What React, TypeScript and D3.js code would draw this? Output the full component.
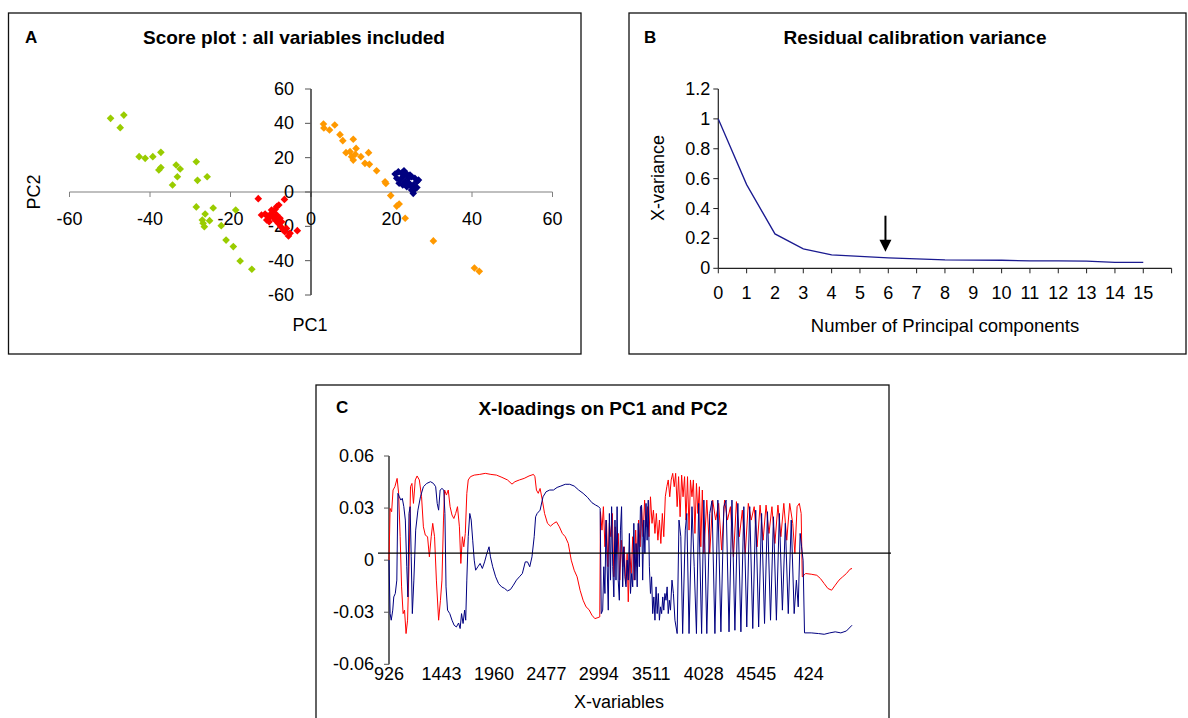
import React from "react";
import * as d3 from "d3";

const FONT = "'Liberation Sans', Arial, Helvetica, sans-serif";

// ---------- Panel A : score plot ----------
const scoreGreen: [number, number][] = [
  [-49.8, 42.9], [-46.5, 44.8], [-47.4, 37.5], [-42.7, 20.6], [-41.2, 19.6], [-39.3, 20.6],
  [-37.3, 23.1], [-37.8, 12.8], [-37.3, 14.2], [-33.5, 15.7], [-32.5, 13.4], [-33.2, 8.9],
  [-34.4, 4.1], [-28.5, 17.6], [-28.2, 6.8], [-25.8, 8.9], [-28.5, -8.7], [-26.3, -12.8],
  [-24.3, -9.3], [-27.0, -16.3], [-26.8, -18.2], [-26.5, -20.2], [-25.2, -16.7], [-22.3, -19.6],
  [-18.7, -10.5], [-21.1, -28.0], [-19.3, -31.8], [-17.6, -40.2], [-14.7, -45.0],
];
const scoreRed: [number, number][] = [
  [-13.1, -3.9], [-6.6, -4.3], [-3.4, -22.5], [-11.4, -12.8], [-10.9, -14.0], [-10.4, -15.3],
  [-10.0, -12.8], [-9.4, -11.5], [-8.9, -10.1], [-8.5, -8.5], [-8.0, -7.6], [-11.0, -16.3],
  [-10.4, -17.3], [-9.4, -14.4], [-8.5, -13.4], [-7.7, -15.3], [-8.1, -18.3], [-7.5, -20.2],
  [-6.9, -22.1], [-6.5, -23.1], [-5.6, -25.6], [-5.2, -24.1], [-7.3, -17.3], [-8.9, -16.3],
  [-9.8, -10.5], [-12.3, -13.4], [-6.1, -21.2],
];
const scoreOrange: [number, number][] = [
  [3.1, 39.6], [3.2, 37.3], [4.6, 36.1], [5.9, 39.0], [7.2, 33.4], [7.9, 29.9], [10.5, 30.7],
  [11.2, 25.4], [8.7, 22.9], [9.7, 23.5], [10.1, 20.6], [10.5, 18.6], [12.4, 20.6], [14.3, 22.9],
  [13.4, 16.7], [14.5, 16.1], [16.3, 12.4], [18.4, 6.0], [18.6, 5.0], [19.8, -2.1], [21.3, -8.2],
  [21.9, -7.0], [23.4, -15.3], [30.4, -28.5], [40.6, -44.3], [41.8, -46.2], [11.0, 22.0],
];
const scoreNavy: [number, number][] = [
  [20.9, 10.5], [21.7, 11.8], [22.5, 10.9], [22.9, 8.9], [22.1, 7.0], [21.3, 8.0], [23.4, 6.0],
  [24.2, 8.0], [25.0, 8.9], [25.8, 8.0], [26.3, 6.0], [25.4, 4.1], [24.6, 4.1], [23.8, 3.1],
  [22.8, 4.1], [25.0, 1.2], [25.8, 1.6], [25.4, -0.8], [26.3, 2.6], [23.8, 10.5], [24.6, 9.9],
  [23.1, 12.4], [21.9, 5.1], [24.2, 5.5], [26.7, 7.0],
];
const scoreTicks = [-60, -40, -20, 0, 20, 40, 60];

// ---------- Panel B : residual calibration variance ----------
const pcComponents = [0, 1, 2, 3, 4, 5, 6, 7, 8, 9, 10, 11, 12, 13, 14, 15];
const residualVariance = [1.0, 0.56, 0.23, 0.13, 0.09, 0.08, 0.07, 0.063, 0.056, 0.055, 0.054, 0.05, 0.05, 0.048, 0.04, 0.04];
const varianceTicks = [0, 0.2, 0.4, 0.6, 0.8, 1, 1.2];
const pcAxisTicks = [0, 1, 2, 3, 4, 5, 6, 7, 8, 9, 10, 11, 12, 13, 14, 15, 16];
const arrowPc = 5.9;
const arrowFrom = 0.352;
const arrowTo = 0.111;

// ---------- Panel C : X-loadings ----------
const loadingLabels = ["926", "1443", "1960", "2477", "2994", "3511", "4028", "4545", "424"];
const labelStep = 517;
const loadingTicks = [-0.06, -0.03, 0, 0.03, 0.06];
const refLineValue = 0.004;

const loadingPC2: [number, number][] = [
  [0, 0], [11, 0.0298], [26, 0.0279], [40, 0.0404], [58, 0.0423], [80, 0.0471], [95, 0.0385], [110, 0.0135],
  [124, -0.0154], [139, -0.0308], [153, -0.0288], [168, -0.0423], [183, -0.0346], [197, -0.0038], [212, 0.0423],
  [226, 0.0442], [241, 0.0327], [259, 0.0462], [277, 0.0485], [299, 0.0462], [321, 0.0365], [339, 0.0192],
  [358, 0.0144], [380, 0.0135], [398, 0.0019], [416, 0.0135], [431, 0.0212], [449, 0.0135], [467, -0.0115],
  [489, -0.0346], [507, -0.0231], [522, -0.0115], [537, 0.0231], [548, 0.0404], [566, 0.0375], [584, 0.0404],
  [602, 0.0308], [621, 0.026], [639, 0.024], [657, 0.0269], [675, 0.0308], [694, 0.0192], [708, -0.0019],
  [723, 0.0135], [737, 0.0077], [752, 0.0154], [767, 0.0385], [781, 0.0462], [803, 0.0481], [840, 0.049],
  [894, 0.0494], [949, 0.05], [1004, 0.0494], [1059, 0.049], [1113, 0.0477], [1168, 0.0462], [1212, 0.0438],
  [1241, 0.0452], [1285, 0.0462], [1332, 0.0471], [1380, 0.0485], [1424, 0.0494], [1438, 0.0481], [1453, 0.0404],
  [1471, 0.0385], [1489, 0.0413], [1511, 0.0346], [1533, 0.0269], [1562, 0.0212], [1591, 0.0196], [1624, 0.0212],
  [1650, 0.0221], [1679, 0.0192], [1708, 0.0154], [1737, 0.0135], [1767, 0.0096], [1796, 0], [1825, -0.0058],
  [1854, -0.0096], [1883, -0.0173], [1913, -0.0231], [1942, -0.0269], [1971, -0.0285], [2000, -0.0317],
  [2029, -0.0337], [2059, -0.0331], [2077, -0.0327], [2084, 0.0279], [2099, 0.0173], [2113, 0.0308],
  [2128, 0.0077], [2143, 0.0231], [2157, -0.0038], [2172, 0.0212], [2186, 0.0135], [2201, 0.0269],
  [2216, -0.0096], [2230, 0.0192], [2245, 0.0038], [2259, 0.0154], [2274, -0.0115], [2289, 0.0115],
  [2303, -0.0038], [2318, 0.0077], [2332, -0.0135], [2347, 0.0038], [2358, -0.024], [2373, 0.0038],
  [2387, -0.0077], [2402, 0.0135], [2416, -0.0115], [2431, 0.0173], [2446, -0.0038], [2460, 0.0231],
  [2475, 0.0077], [2489, 0.0308], [2504, 0.0135], [2519, 0.0346], [2533, 0.0192], [2548, 0.0308],
  [2562, 0.0135], [2577, 0.0365], [2592, 0.0212], [2606, 0.0288], [2621, 0.0154], [2635, 0.0269],
  [2650, 0.0115], [2665, 0.0231], [2679, 0.0096], [2694, 0.0269], [2708, 0.0135], [2723, 0.0365],
  [2738, 0.0423], [2752, 0.0462], [2767, 0.0365], [2781, 0.0462], [2796, 0.05], [2811, 0.0423],
  [2825, 0.05], [2840, 0.0308], [2854, 0.0481], [2869, 0.025], [2884, 0.049], [2898, 0.0365],
  [2913, 0.0481], [2927, 0.0231], [2942, 0.0481], [2957, 0.0173], [2971, 0.0462], [2986, 0.0365],
  [3000, 0.0462], [3015, 0.0154], [3030, 0.0442], [3044, 0.0269], [3059, 0.0423], [3073, 0.0077],
  [3088, 0.0404], [3103, 0.0038], [3132, 0.0346], [3161, 0.0038], [3190, 0.0346], [3219, 0.0231],
  [3249, 0.0327], [3278, 0.0058], [3307, 0.0346], [3336, 0.0231], [3365, 0.0308], [3395, 0.0019],
  [3424, 0.0337], [3453, 0.0135], [3482, 0.0288], [3511, 0.0038], [3541, 0.0327], [3570, 0.0231],
  [3599, 0.0308], [3628, 0.0077], [3657, 0.0317], [3687, 0.0115], [3716, 0.0317], [3745, 0.0154],
  [3774, 0.0308], [3803, 0.0096], [3833, 0.0317], [3862, 0.0135], [3891, 0.0327], [3920, 0.0115],
  [3949, 0.0327], [3979, 0.0212], [4000, 0.0038], [4022, 0.0308], [4044, 0.0327], [4062, 0.0269],
  [4073, -0.0096], [4106, -0.0077], [4161, -0.0081], [4216, -0.0087], [4252, -0.0106], [4289, -0.0135],
  [4325, -0.0163], [4362, -0.0173], [4398, -0.0144], [4435, -0.0115], [4471, -0.0096], [4508, -0.0077],
  [4544, -0.0052], [4563, -0.0048],
];

const loadingPC1: [number, number][] = [
  [0, 0], [11, -0.0308], [22, -0.0346], [37, -0.0288], [47, -0.0212], [62, -0.0192], [77, -0.0115],
  [88, 0.0385], [102, 0.0365], [117, 0.0346], [131, 0.0356], [146, 0.0308], [161, 0.0231], [175, -0.0038],
  [186, -0.0212], [197, 0.0269], [208, 0.0308], [219, 0.0019], [230, -0.0308], [245, -0.0115], [263, 0.0173],
  [285, 0.0288], [310, 0.0365], [339, 0.0423], [372, 0.0442], [409, 0.0452], [438, 0.0442], [460, 0.0423],
  [475, 0.0327], [489, 0.0288], [504, 0.0404], [522, 0.0413], [540, 0.0404], [551, 0.0269], [562, -0.0154],
  [577, -0.0288], [599, -0.0308], [621, -0.0346], [642, -0.0375], [664, -0.0385], [686, -0.0362],
  [701, -0.0394], [715, -0.0308], [730, -0.0365], [745, -0.0288], [756, -0.0346], [767, -0.0115],
  [781, 0.0135], [796, 0.0269], [810, 0.0231], [825, 0.0115], [840, 0], [854, -0.0058], [876, -0.0038],
  [898, -0.0019], [920, -0.0048], [942, -0.001], [964, 0.0038], [986, 0.0077], [1000, 0.0019],
  [1022, -0.0038], [1051, -0.0096], [1080, -0.0135], [1110, -0.0154], [1139, -0.0163], [1168, -0.0177],
  [1197, -0.0169], [1226, -0.0144], [1256, -0.0115], [1285, -0.0096], [1314, -0.0077], [1343, -0.001],
  [1365, -0.001], [1387, -0.0038], [1409, 0.0019], [1431, 0.0135], [1445, 0.025], [1460, 0.0269],
  [1489, 0.0288], [1518, 0.0365], [1548, 0.0394], [1584, 0.0404], [1621, 0.0404], [1657, 0.0419],
  [1694, 0.0427], [1737, 0.0437], [1781, 0.0437], [1825, 0.0427], [1869, 0.0404], [1913, 0.0385],
  [1956, 0.0362], [2000, 0.0331], [2037, 0.0317], [2066, 0.0308], [2081, 0.0298], [2092, -0.0308],
  [2106, -0.0288], [2117, -0.0038], [2128, -0.0192], [2139, 0.0231], [2150, -0.0038], [2161, -0.0288],
  [2172, 0.0269], [2183, -0.0115], [2194, 0.0308], [2205, -0.0038], [2216, -0.0212], [2227, 0.0231],
  [2237, -0.0115], [2248, 0.0308], [2259, -0.0115], [2270, -0.0231], [2281, 0.0173], [2292, 0.0308],
  [2303, -0.0154], [2314, 0.0077], [2325, -0.0096], [2336, -0.0154], [2347, 0], [2358, -0.0115],
  [2369, 0.0154], [2380, -0.0192], [2391, -0.0077], [2402, -0.0154], [2413, 0.0212], [2424, -0.0115],
  [2435, 0.0096], [2446, -0.0154], [2456, 0.0212], [2467, -0.0038], [2478, 0.0308], [2489, 0.0317],
  [2500, -0.0115], [2511, 0.0231], [2522, 0.0038], [2533, 0.0327], [2544, 0.0115], [2555, 0.0346],
  [2566, -0.0038], [2577, -0.0192], [2588, -0.0096], [2599, -0.0308], [2610, -0.0212], [2621, -0.0346],
  [2632, -0.0154], [2643, -0.0308], [2654, -0.0192], [2665, -0.0346], [2676, -0.0269], [2687, -0.0308],
  [2698, -0.0212], [2708, -0.0288], [2719, -0.0192], [2730, -0.0231], [2741, -0.0154], [2752, -0.0308],
  [2763, -0.0231], [2774, -0.0288], [2789, -0.0115], [2803, -0.0192], [2818, -0.0346], [2840, -0.0423],
  [2858, 0.0231], [2876, 0.0135], [2894, -0.0423], [2920, 0.0173], [2935, 0.0269], [2957, -0.0423],
  [2986, 0.0308], [3008, -0.0038], [3030, -0.0423], [3052, 0.0327], [3081, -0.0423], [3103, 0.0346],
  [3132, -0.0423], [3161, 0.0269], [3183, 0.0342], [3212, -0.0423], [3241, 0.0346], [3271, -0.0413],
  [3300, 0.0308], [3322, 0.0346], [3351, -0.0413], [3380, 0.0346], [3409, -0.0404], [3438, 0.0327],
  [3468, -0.0413], [3497, 0.0308], [3526, -0.0385], [3555, 0.0308], [3585, -0.0394], [3614, 0.0288],
  [3643, -0.0385], [3672, 0.0269], [3701, -0.0365], [3730, 0.0279], [3760, -0.0346], [3789, 0.025],
  [3818, -0.0346], [3847, 0.0269], [3877, -0.0288], [3906, 0.0212], [3935, -0.0308], [3964, 0.0231],
  [3993, -0.0308], [4015, -0.0115], [4033, -0.0269], [4052, 0.0154], [4066, 0.0077], [4081, 0],
  [4095, -0.0419], [4161, -0.0419], [4234, -0.0423], [4289, -0.0427], [4344, -0.0419], [4398, -0.0413],
  [4453, -0.0419], [4508, -0.0408], [4563, -0.0375],
];

const diamondType = {
  draw(ctx: any, size: number) {
    const r = Math.sqrt(size) * 0.62;
    ctx.moveTo(0, -r);
    ctx.lineTo(r, 0);
    ctx.lineTo(0, r);
    ctx.lineTo(-r, 0);
    ctx.closePath();
  },
};
const diamondPath = d3.symbol().type(diamondType as any).size(38)() as string;

export default function App() {
  // Panel A scales
  const ax = d3.scaleLinear().domain([-60, 60]).range([69.5, 552.5]);
  const ay = d3.scaleLinear().domain([-60, 60]).range([295, 89]);

  // Panel B scales
  const bx = d3.scaleLinear().domain([0, 16]).range([718.3, 1171.6]);
  const by = d3.scaleLinear().domain([0, 1.2]).range([268.3, 89]);
  const bLine = d3
    .line<number>()
    .x((_, i) => bx(pcComponents[i]))
    .y((d) => by(d));

  // Panel C scales
  const cx = d3.scaleLinear().domain([0, 4563]).range([389, 852]);
  const cy = d3.scaleLinear().domain([-0.06, 0.06]).range([664.3, 456]);
  const cLine = d3
    .line<[number, number]>()
    .x((d) => cx(d[0]))
    .y((d) => cy(d[1]));

  const scoreSets: { pts: [number, number][]; color: string }[] = [
    { pts: scoreGreen, color: "#99CC00" },
    { pts: scoreRed, color: "#FF0000" },
    { pts: scoreOrange, color: "#FF9900" },
    { pts: scoreNavy, color: "#000080" },
  ];

  const ax0 = ax(0);
  const ay0 = ay(0);

  const arrowX = bx(arrowPc);
  const arrowTop = by(arrowFrom);
  const arrowTip = by(arrowTo);

  const TITLE = 19;
  const LBL = 18;

  return (
    <svg
      width={1188}
      height={718}
      style={{ position: "absolute", left: 0, top: 0, background: "#fff" }}
      fontFamily={FONT}
    >
      <rect x={0} y={0} width={1188} height={718} fill="#fff" />

      {/* ================= Panel A ================= */}
      <rect x={8.5} y={13} width={572.5} height={341} fill="none" stroke="#111" strokeWidth={1.3} />
      <text x={25} y={37} fontSize={17} fontWeight="bold" dominantBaseline="central">A</text>
      <text x={294} y={37} fontSize={TITLE} fontWeight="bold" textAnchor="middle" dominantBaseline="central">
        Score plot : all variables included
      </text>
      {/* x axis */}
      <line x1={ax(-60)} x2={ax(60)} y1={ay0} y2={ay0} stroke="#808080" strokeWidth={1.2} />
      {scoreTicks.map((t) => (
        <g key={"axt" + t}>
          <line x1={ax(t)} x2={ax(t)} y1={ay0} y2={ay0 + 5} stroke="#808080" strokeWidth={1} />
          <text x={ax(t)} y={ay0 + 27} fontSize={LBL} textAnchor="middle" dominantBaseline="central">
            {t}
          </text>
        </g>
      ))}
      {/* y axis */}
      <line x1={ax0} x2={ax0} y1={ay(60)} y2={ay(-60)} stroke="#000" strokeWidth={1.2} />
      {scoreTicks.map((t) => (
        <g key={"ayt" + t}>
          <line x1={ax0 - 6} x2={ax0} y1={ay(t)} y2={ay(t)} stroke="#555" strokeWidth={1} />
          <text x={ax0 - 17} y={ay(t)} fontSize={LBL} textAnchor="end" dominantBaseline="central">
            {t}
          </text>
        </g>
      ))}
      <text x={310} y={325} fontSize={LBL} textAnchor="middle" dominantBaseline="central">PC1</text>
      <text
        x={34}
        y={192}
        fontSize={LBL}
        textAnchor="middle"
        dominantBaseline="central"
        transform="rotate(-90 34 192)"
      >
        PC2
      </text>
      {scoreSets.map((s, si) => (
        <g key={"set" + si} fill={s.color}>
          {s.pts.map((p, i) => (
            <path key={i} d={diamondPath} transform={`translate(${ax(p[0])},${ay(p[1])})`} />
          ))}
        </g>
      ))}

      {/* ================= Panel B ================= */}
      <rect x={629} y={13} width={557} height={341} fill="none" stroke="#111" strokeWidth={1.3} />
      <text x={644} y={37} fontSize={17} fontWeight="bold" dominantBaseline="central">B</text>
      <text x={915} y={37} fontSize={TITLE} fontWeight="bold" textAnchor="middle" dominantBaseline="central">
        Residual calibration variance
      </text>
      <line x1={bx(0)} x2={bx(16)} y1={by(0)} y2={by(0)} stroke="#222" strokeWidth={1.2} />
      <line x1={bx(0)} x2={bx(0)} y1={by(0)} y2={by(1.2)} stroke="#222" strokeWidth={1.2} />
      {pcAxisTicks.map((t) => (
        <line key={"bxt" + t} x1={bx(t)} x2={bx(t)} y1={by(0)} y2={by(0) + 5} stroke="#222" strokeWidth={1} />
      ))}
      {pcComponents.map((t) => (
        <text key={"bxl" + t} x={bx(t)} y={by(0) + 25} fontSize={LBL} textAnchor="middle" dominantBaseline="central">
          {t}
        </text>
      ))}
      {varianceTicks.map((t) => (
        <g key={"byt" + t}>
          <line x1={bx(0) - 5} x2={bx(0)} y1={by(t)} y2={by(t)} stroke="#222" strokeWidth={1} />
          <text x={bx(0) - 8} y={by(t)} fontSize={LBL} textAnchor="end" dominantBaseline="central">
            {String(t)}
          </text>
        </g>
      ))}
      <path d={bLine(residualVariance) || ""} fill="none" stroke="#1a1a90" strokeWidth={1.3} />
      <line x1={arrowX} x2={arrowX} y1={arrowTop} y2={arrowTip - 10} stroke="#000" strokeWidth={2} />
      <path
        d={`M${arrowX - 6},${arrowTip - 12} L${arrowX + 6},${arrowTip - 12} L${arrowX},${arrowTip} Z`}
        fill="#000"
      />
      <text x={945} y={325} fontSize={18.5} textAnchor="middle" dominantBaseline="central">
        Number of Principal components
      </text>
      <text
        x={657.5}
        y={178}
        fontSize={LBL}
        textAnchor="middle"
        dominantBaseline="central"
        transform="rotate(-90 657.5 178)"
      >
        X-variance
      </text>

      {/* ================= Panel C ================= */}
      <rect x={316} y={385} width={573} height={345} fill="none" stroke="#111" strokeWidth={1.3} />
      <text x={336} y={407} fontSize={17} fontWeight="bold" dominantBaseline="central">C</text>
      <text x={603} y={408} fontSize={TITLE} fontWeight="bold" textAnchor="middle" dominantBaseline="central">
        X-loadings on PC1 and PC2
      </text>
      <line x1={cx(0)} x2={cx(0)} y1={cy(0.06)} y2={cy(-0.06)} stroke="#000" strokeWidth={1.2} />
      {loadingTicks.map((t) => (
        <g key={"cyt" + t}>
          <line x1={cx(0) - 5} x2={cx(0)} y1={cy(t)} y2={cy(t)} stroke="#555" strokeWidth={1} />
          <text x={cx(0) - 15} y={cy(t)} fontSize={LBL} textAnchor="end" dominantBaseline="central">
            {t === 0 ? "0" : t.toFixed(2)}
          </text>
        </g>
      ))}
      {loadingLabels.map((l, i) => (
        <text
          key={"cxl" + i}
          x={cx(i * labelStep)}
          y={cy(-0.06) + 9.5}
          fontSize={LBL}
          textAnchor="middle"
          dominantBaseline="central"
        >
          {l}
        </text>
      ))}
      <path d={cLine(loadingPC2) || ""} fill="none" stroke="#FF0000" strokeWidth={1} />
      <path d={cLine(loadingPC1) || ""} fill="none" stroke="#000080" strokeWidth={1} />
      <line
        x1={cx(0) - 11}
        x2={891}
        y1={cy(refLineValue)}
        y2={cy(refLineValue)}
        stroke="#000"
        strokeWidth={1.3}
      />
      <text x={619} y={702} fontSize={LBL} textAnchor="middle" dominantBaseline="central">
        X-variables
      </text>
    </svg>
  );
}
